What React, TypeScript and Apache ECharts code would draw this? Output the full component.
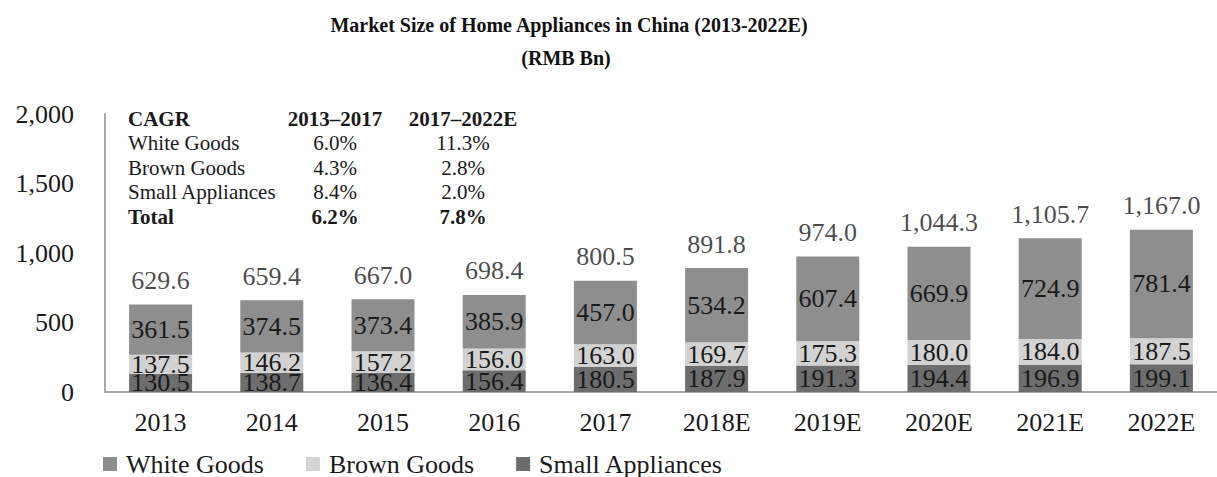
import React, { useEffect, useRef } from "react";
import * as echarts from "echarts";

const categories = ["2013", "2014", "2015", "2016", "2017", "2018E", "2019E", "2020E", "2021E", "2022E"];
const smallAppliances = [130.5, 138.7, 136.4, 156.4, 180.5, 187.9, 191.3, 194.4, 196.9, 199.1];
const brownGoods = [137.5, 146.2, 157.2, 156.0, 163.0, 169.7, 175.3, 180.0, 184.0, 187.5];
const whiteGoods = [361.5, 374.5, 373.4, 385.9, 457.0, 534.2, 607.4, 669.9, 724.9, 781.4];
const totals = [629.6, 659.4, 667.0, 698.4, 800.5, 891.8, 974.0, 1044.3, 1105.7, 1167.0];

const cagrHeader = ["CAGR", "2013\u20132017", "2017\u20132022E"];
const cagrRows = [
  ["White Goods", "6.0%", "11.3%"],
  ["Brown Goods", "4.3%", "2.8%"],
  ["Small Appliances", "8.4%", "2.0%"],
  ["Total", "6.2%", "7.8%"],
];

const FONT = '"Liberation Serif", "Times New Roman", serif';
const TXT = "#1a1a1a";

const fmt1 = (v: number) =>
  v.toLocaleString("en-US", { minimumFractionDigits: 1, maximumFractionDigits: 1 });

export default function App() {
  const ref = useRef<HTMLDivElement>(null);
  useEffect(() => {
    if (!ref.current) return;
    const chart = echarts.init(ref.current, undefined, { renderer: "svg" });

    const colX = [128, 335, 463];
    const rowY = [119, 143, 168, 192, 217];
    const tableTexts: any[] = [];
    const allRows = [cagrHeader, ...cagrRows];
    allRows.forEach((row, ri) => {
      const bold = ri === 0 || ri === allRows.length - 1;
      row.forEach((cell, ci) => {
        tableTexts.push({
          type: "text",
          x: colX[ci],
          y: rowY[ri],
          style: {
            text: cell,
            fontFamily: FONT,
            fontSize: 21,
            fontWeight: bold ? "bold" : "normal",
            fill: TXT,
            textAlign: ci === 0 ? "left" : "center",
            textVerticalAlign: "middle",
          },
        });
      });
    });

    const barLabel = {
      show: true,
      position: "inside",
      fontFamily: FONT,
      fontSize: 26,
      color: TXT,
      formatter: (p: any) => fmt1(p.value),
    };

    chart.setOption({
      animation: false,
      textStyle: { fontFamily: FONT },
      graphic: [
        {
          type: "text",
          x: 569,
          y: 25,
          style: {
            text: "Market Size of Home Appliances in China (2013-2022E)",
            fontFamily: FONT,
            fontSize: 20,
            fontWeight: "bold",
            fill: "#111",
            textAlign: "center",
            textVerticalAlign: "middle",
          },
        },
        {
          type: "text",
          x: 566,
          y: 58,
          style: {
            text: "(RMB Bn)",
            fontFamily: FONT,
            fontSize: 20,
            fontWeight: "bold",
            fill: "#111",
            textAlign: "center",
            textVerticalAlign: "middle",
          },
        },
        ...tableTexts,
      ],
      grid: { left: 105, top: 114, width: 1116, height: 278, containLabel: false },
      legend: {
        data: ["White Goods", "Brown Goods", "Small Appliances"],
        left: 103,
        top: 451,
        padding: 0,
        icon: "rect",
        itemWidth: 14,
        itemHeight: 14,
        itemGap: 42,
        textStyle: {
          fontFamily: FONT,
          fontSize: 26,
          color: TXT,
          lineHeight: 26,
          padding: [0, 0, 0, 4],
        },
      },
      xAxis: {
        type: "category",
        data: categories,
        axisLine: { show: true, lineStyle: { color: "#a8a8a8", width: 2 } },
        axisTick: { show: false },
        axisLabel: { fontFamily: FONT, fontSize: 26, color: TXT, margin: 17 },
      },
      yAxis: {
        type: "value",
        min: 0,
        max: 2000,
        interval: 500,
        splitLine: { show: false },
        axisLine: { show: true, lineStyle: { color: "#a8a8a8", width: 2 } },
        axisTick: { show: false },
        axisLabel: {
          fontFamily: FONT,
          fontSize: 26,
          color: TXT,
          margin: 31,
          formatter: (v: number) => v.toLocaleString("en-US"),
        },
      },
      series: [
        {
          name: "Small Appliances",
          type: "bar",
          stack: "total",
          barWidth: 63,
          data: smallAppliances,
          itemStyle: { color: "#6d6d6d" },
          label: barLabel,
        },
        {
          name: "Brown Goods",
          type: "bar",
          stack: "total",
          barWidth: 63,
          data: brownGoods,
          itemStyle: { color: "#d2d2d2" },
          label: barLabel,
        },
        {
          name: "White Goods",
          type: "bar",
          stack: "total",
          barWidth: 63,
          data: whiteGoods,
          itemStyle: { color: "#8e8e8e" },
          label: barLabel,
        },
        {
          name: "Total",
          type: "scatter",
          data: totals,
          symbolSize: 0,
          silent: true,
          label: {
            show: true,
            position: "top",
            distance: 11,
            fontFamily: FONT,
            fontSize: 26,
            color: TXT,
            formatter: (p: any) => fmt1(p.value),
          },
        },
      ],
    });
    return () => chart.dispose();
  }, []);
  return (
    <div
      ref={ref}
      style={{ position: "absolute", left: 0, top: 0, width: 1217, height: 477, background: "#fff" }}
    />
  );
}
